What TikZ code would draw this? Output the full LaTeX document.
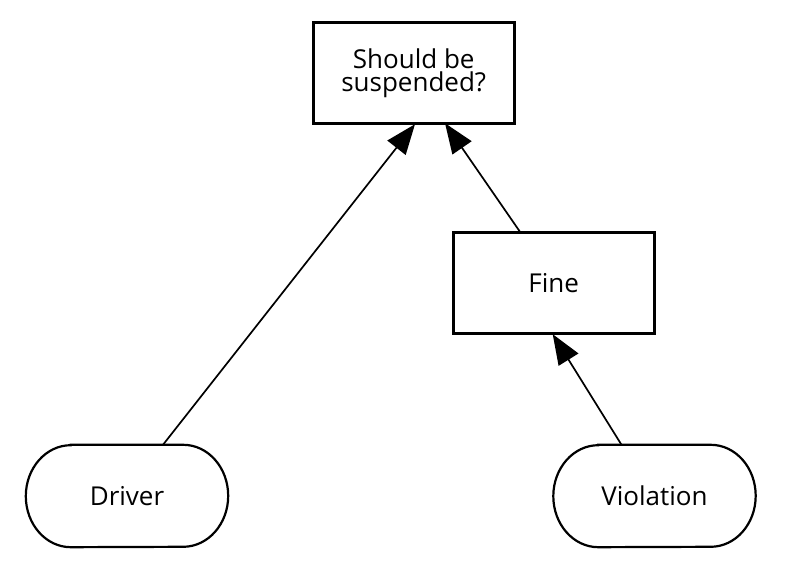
\documentclass[tikz,border=0pt]{standalone}
\usepackage{fontspec}
\setmainfont{Open Sans}
\usetikzlibrary{arrows.meta,calc}
\newcommand\drawstadium[1]{%
  \draw[ovalline] ($(#1.north west)+(45,0)$) -- ($(#1.north east)+(-45,0)$)
    arc[start angle=90,end angle=-90,x radius=45,y radius=51]
    -- ($(#1.south west)+(45,0)$)
    arc[start angle=270,end angle=90,x radius=45,y radius=51] -- cycle;}
\begin{document}
\begin{tikzpicture}[x=1pt,y=1pt,
  lbl/.style={font=\fontsize{26}{23.5}\selectfont, align=center},
  sqbox/.style={lbl, draw, line width=2.8pt, minimum width=201pt, minimum height=101pt, inner sep=0pt},
  ovalbox/.style={lbl, minimum width=202pt, minimum height=102pt, inner sep=0pt},
  ovalline/.style={line width=2.2pt},
  conn/.style={line width=1.7pt, -{Triangle[length=30pt,width=23pt]}}]
\useasboundingbox (0,0) rectangle (790,580);
\node[sqbox] (top) at (413.7,506.7) {Should be\\suspended?};
\node[sqbox] (fine) at (553.7,296.7) {Fine};
\node[ovalbox] (driver) at (127,84) {Driver};
\node[ovalbox] (viol) at (654.5,84) {Violation};
\drawstadium{driver}
\drawstadium{viol}
\draw[conn] ($(driver.north)+(36,0)$) -- ($(top.south)+(1.3,1)$);
\draw[conn] ($(fine.north)+(-34,0)$) -- ($(top.south)+(31.3,2)$);
\draw[conn] ($(viol.north)+(-33,0)$) -- ($(fine.south)+(-1,1)$);
\end{tikzpicture}
\end{document}
